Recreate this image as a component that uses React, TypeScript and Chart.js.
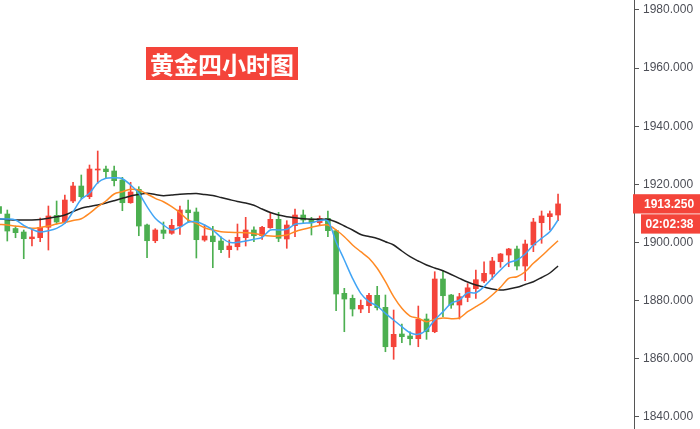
import React, { useEffect, useRef } from "react";
import { Chart, registerables } from "chart.js";

Chart.register(...registerables);

const titleText = "黄金四小时图";
const lastPriceText = "1913.250";
const countdownText = "02:02:38";
const yTickValues = [1840, 1860, 1880, 1900, 1920, 1940, 1960, 1980];

const opens = [
  1912.29, 1909.77, 1904.78, 1903.58, 1901.27, 1901.62, 1905.2, 1909.33, 1907.02, 1914.25,
  1919.41, 1915.73, 1924.92, 1925.26, 1924.58, 1921.48, 1913.66, 1918.28, 1905.99, 1900.58,
  1904.27, 1903.13, 1905.64, 1911.15, 1910.46, 1900.82, 1902.2, 1900.48, 1897.49, 1898.52,
  1901.62, 1904.27, 1902.3, 1905.06, 1907.95, 1901.17, 1905.75, 1909.43, 1908.05, 1906.78,
  1908.29, 1904.03, 1882.48, 1880.75, 1877.07, 1878.21, 1881.79, 1877.66, 1864.09, 1868.47,
  1867.78, 1866.85, 1873.63, 1869.26, 1887.4, 1881.89, 1878.45, 1881.03, 1884.06, 1886.71,
  1889.12, 1893.35, 1895.66, 1897.73, 1891.87, 1899.1, 1906.78, 1908.85, 1909.43,
];
const highs = [
  1912.87, 1911.15, 1905.47, 1904.27, 1904.51, 1908.4, 1912.53, 1914.25, 1916.32, 1920.69,
  1923.2, 1926.64, 1931.46, 1926.3, 1926.3, 1922.41, 1920.69, 1919.17, 1906.33, 1904.72,
  1907.02, 1907.95, 1912.53, 1914.59, 1911.84, 1905.99, 1905.54, 1901.96, 1900.82, 1906.33,
  1908.64, 1905.4, 1905.54, 1910.36, 1910.36, 1907.47, 1911.5, 1911.15, 1908.64, 1909.09,
  1910.81, 1904.3, 1884.2, 1881.89, 1880.17, 1882.48, 1884.89, 1881.89, 1876.73, 1871.91,
  1869.26, 1878.1, 1875.35, 1889.91, 1890.26, 1882.1, 1882.48, 1885.81, 1890.5, 1893.35,
  1894.87, 1896.2, 1897.97, 1898.76, 1900.82, 1908.29, 1910.81, 1910.81, 1916.66,
];
const lows = [
  1909.08, 1900.48, 1901.61, 1894.39, 1898.76, 1900.24, 1897.38, 1906.33, 1906.57, 1913.66,
  1915.04, 1915.04, 1920.34, 1922.06, 1919.41, 1910.91, 1913.46, 1902.3, 1894.73, 1899.89,
  1901.27, 1902.79, 1902.79, 1907.02, 1894.63, 1900.38, 1891.29, 1896.45, 1894.8, 1897.38,
  1898.76, 1900.24, 1901.07, 1904.85, 1900.24, 1897.97, 1901.96, 1906.78, 1902.55, 1905.99,
  1901.96, 1876.49, 1869.26, 1874.66, 1875.8, 1875.8, 1876.73, 1862.37, 1859.76, 1865.47,
  1864.68, 1864.09, 1866.64, 1868.91, 1874.42, 1877.31, 1873.63, 1879.58, 1880.75, 1886.13,
  1887.3, 1891.43, 1891.63, 1890.5, 1886.81, 1896.8, 1899.69, 1904.27, 1907.47,
];
const closes = [
  1910.01, 1903.92, 1903.34, 1901.27, 1901.86, 1905.2, 1909.09, 1907.02, 1914.59, 1919.41,
  1915.73, 1925.26, 1925.26, 1924.34, 1921.24, 1913.66, 1917.35, 1905.64, 1900.58, 1904.27,
  1903.13, 1905.88, 1911.15, 1910.22, 1900.93, 1902.2, 1900.24, 1897.49, 1898.76, 1901.75,
  1904.27, 1902.3, 1905.2, 1907.95, 1901.41, 1905.99, 1909.43, 1907.71, 1906.78, 1908.29,
  1904.03, 1882.24, 1880.51, 1877.07, 1878.35, 1881.79, 1877.52, 1864.09, 1868.36, 1867.54,
  1866.85, 1873.53, 1869.26, 1887.4, 1881.65, 1878.45, 1881.31, 1884.37, 1887.16, 1889.36,
  1893.59, 1896.01, 1897.73, 1891.87, 1899.45, 1907.02, 1909.09, 1909.88, 1913.25,
];

const maFast = [
  1908.05, 1908.05, 1907.71, 1905.89, 1904.51, 1903.58, 1904.03, 1904.85, 1906.57, 1910.57,
  1914.83, 1916.9, 1920.55, 1922.06, 1922.27, 1921.93, 1919.76, 1916.9, 1912.29, 1908.29,
  1905.99, 1904.27, 1905.2, 1906.92, 1907.12, 1905.99, 1904.27, 1901.76, 1900.03, 1900.03,
  1900.48, 1901.06, 1901.76, 1904.27, 1904.27, 1904.51, 1906.23, 1906.57, 1906.78, 1907.54,
  1907.37, 1900.13, 1893.94, 1887.64, 1882.47, 1879.59, 1878.11, 1875.59, 1873.29, 1870.98,
  1868.91, 1868.36, 1869.84, 1873.29, 1876.14, 1879.03, 1880.17, 1882.68, 1882.68, 1884.75,
  1887.64, 1890.5, 1893.01, 1893.94, 1896.0, 1899.1, 1901.41, 1903.68, 1907.71,
];
const maMid = [
  1906.23, 1905.99, 1905.64, 1905.3, 1904.85, 1905.13, 1905.64, 1906.33, 1906.92, 1907.54,
  1908.16, 1910.01, 1912.29, 1914.25, 1916.66, 1917.45, 1918.28, 1918.04, 1916.66, 1915.18,
  1914.0, 1912.29, 1910.22, 1907.71, 1906.57, 1905.06, 1904.27, 1903.68, 1903.48, 1903.41,
  1903.34, 1903.07, 1902.55, 1902.2, 1902.2, 1902.55, 1903.68, 1904.51, 1905.2, 1905.82,
  1905.99, 1904.27, 1901.96, 1899.1, 1896.8, 1894.53, 1891.09, 1886.47, 1881.31, 1877.31,
  1874.66, 1873.87, 1872.7, 1873.53, 1873.98, 1873.74, 1873.98, 1876.14, 1877.86, 1879.59,
  1881.89, 1884.54, 1887.64, 1888.19, 1889.91, 1892.8, 1895.31, 1897.97, 1900.58,
];
const maSlow = [
  1908.05, 1907.88, 1907.71, 1907.71, 1907.71, 1907.88, 1908.29, 1908.81, 1909.43, 1910.63,
  1911.73, 1912.35, 1912.87, 1913.56, 1914.35, 1915.18, 1915.97, 1916.49, 1916.9, 1916.49,
  1916.08, 1916.32, 1916.56, 1916.73, 1916.83, 1916.49, 1916.15, 1915.46, 1914.76, 1914.07,
  1913.56, 1912.8, 1911.49, 1910.29, 1909.43, 1908.85, 1908.47, 1908.12, 1907.95, 1907.95,
  1907.95, 1907.02, 1905.64, 1904.27, 1902.72, 1902.03, 1901.34, 1900.24, 1899.1, 1897.04,
  1895.08, 1893.59, 1892.22, 1891.19, 1890.26, 1888.95, 1887.64, 1886.37, 1885.34, 1884.65,
  1883.96, 1883.61, 1883.96, 1884.54, 1885.51, 1886.47, 1887.92, 1889.47, 1891.87,
];

const UP = "#f4443a";
const DOWN = "#4caf50";

export default function App() {
  const canvasRef = useRef<HTMLCanvasElement | null>(null);

  useEffect(() => {
    const canvas = canvasRef.current;
    if (!canvas) return;
    const colors = closes.map((c, i) => (c >= opens[i] ? UP : DOWN));
    const idx = closes.map((_, i) => i);

    const priceLabelPlugin = {
      id: "priceLabel",
      afterDraw(chart: any) {
        const ctx = chart.ctx;
        const y = chart.scales.y.getPixelForValue(closes[closes.length - 1]);
        ctx.save();
        ctx.fillStyle = UP;
        ctx.fillRect(633, y - 9.7, 67, 19.3);
        ctx.fillRect(641, y + 10.4, 59, 19.3);
        ctx.fillStyle = "#ffffff";
        ctx.font = "bold 12px 'Liberation Sans', Arial, sans-serif";
        ctx.textBaseline = "middle";
        ctx.textAlign = "left";
        ctx.fillText(lastPriceText, 644, y + 0.5);
        ctx.fillText(countdownText, 645.5, y + 20.5);
        ctx.restore();
      },
    };

    const chart = new Chart(canvas, {
      type: "bar",
      data: {
        datasets: [
          {
            type: "line",
            data: idx.map((i) => ({ x: i, y: maFast[i] })),
            borderColor: "#42a5f5",
            borderWidth: 1.5,
            pointRadius: 0,
            tension: 0.3,
            order: 1,
          } as any,
          {
            type: "line",
            data: idx.map((i) => ({ x: i, y: maMid[i] })),
            borderColor: "#ff8a24",
            borderWidth: 1.5,
            pointRadius: 0,
            tension: 0.3,
            order: 2,
          } as any,
          {
            type: "line",
            data: idx.map((i) => ({ x: i, y: maSlow[i] })),
            borderColor: "#222222",
            borderWidth: 1.5,
            pointRadius: 0,
            tension: 0.3,
            order: 3,
          } as any,
          {
            type: "bar",
            data: idx.map((i) => ({ x: i, y: [opens[i], closes[i]] })),
            backgroundColor: colors,
            borderWidth: 0,
            barThickness: 5,
            minBarLength: 1,
            grouped: false,
            order: 4,
          } as any,
          {
            type: "bar",
            data: idx.map((i) => ({ x: i, y: [lows[i], highs[i]] })),
            backgroundColor: colors,
            borderWidth: 0,
            barThickness: 1,
            grouped: false,
            order: 5,
          } as any,
        ],
      },
      options: {
        responsive: false,
        animation: false,
        events: [],
        layout: { padding: 0 },
        plugins: { legend: { display: false }, tooltip: { enabled: false } },
        scales: {
          x: {
            type: "linear",
            display: false,
            offset: false,
            min: 0.112,
            max: 77.24,
          },
          y: {
            type: "linear",
            position: "right",
            min: 1835.77,
            max: 1983.44,
            border: { display: true, color: "#555555", width: 1 },
            grid: {
              drawOnChartArea: false,
              drawTicks: true,
              tickLength: 5,
              color: "#555555",
            },
            ticks: {
              padding: 4,
              color: "#4d4f57",
              font: { family: "'Liberation Sans', Arial, sans-serif", size: 12 },
              callback: (v: any) => Number(v).toFixed(3),
            },
            afterBuildTicks: (scale: any) => {
              scale.ticks = yTickValues.map((v) => ({ value: v }));
            },
            afterFit: (scale: any) => {
              scale.width = 66;
              scale.paddingTop = 0;
              scale.paddingBottom = 0;
            },
          },
        },
      },
      plugins: [priceLabelPlugin],
    } as any);

    return () => chart.destroy();
  }, []);

  return (
    <div style={{ position: "fixed", left: 0, top: 0, width: 700, height: 429, background: "#ffffff" }}>
      <canvas ref={canvasRef} width={700} height={429} style={{ display: "block" }} />
      <div
        style={{
          position: "absolute",
          left: 146,
          top: 47,
          width: 152,
          height: 33,
          lineHeight: "33px",
          background: "#f4443a",
          color: "#ffffff",
          fontFamily: "'Noto Sans CJK SC', sans-serif",
          fontWeight: 700,
          fontSize: 24,
          textAlign: "center",
          whiteSpace: "nowrap",
          letterSpacing: 0,
        }}
      >
        {titleText}
      </div>
    </div>
  );
}
